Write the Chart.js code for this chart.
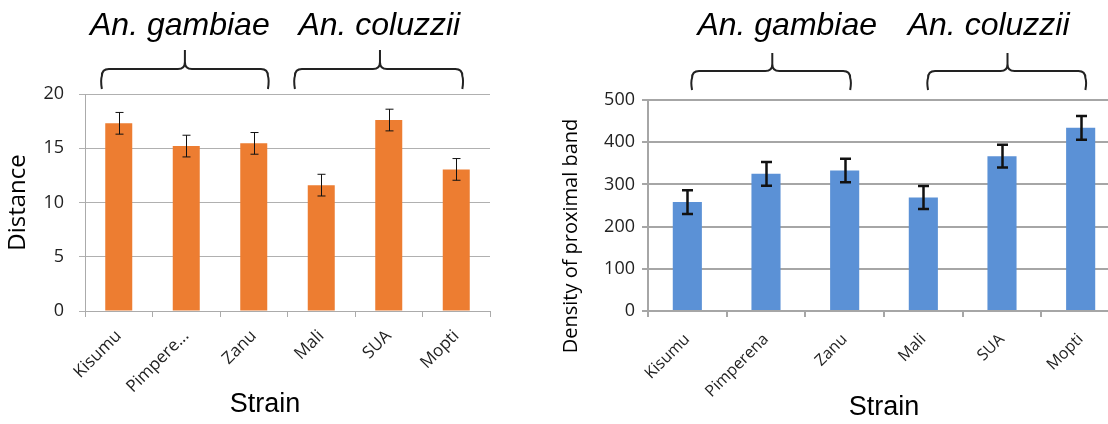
<!DOCTYPE html>
<html><head><meta charset="utf-8">
<script src="https://cdn.jsdelivr.net/npm/chart.js@4"></script>
<style>
html,body{margin:0;padding:0;background:#fff;overflow:hidden;width:1108px;height:424px;}
#c1{position:absolute;left:0;top:0;}
#c2{position:absolute;left:540px;top:0;}
</style></head><body>
<canvas id="c1" width="530" height="424"></canvas>
<canvas id="c2" width="600" height="424"></canvas>
<script>
// ---- data ----
const strains = ['Kisumu', 'Pimperena', 'Zanu', 'Mali', 'SUA', 'Mopti'];
const distanceTickLabels = ['Kisumu', 'Pimpere...', 'Zanu', 'Mali', 'SUA', 'Mopti'];
const distance = [17.3, 15.2, 15.45, 11.6, 17.6, 13.05];
const distanceErr = [1.0, 1.0, 1.0, 1.0, 1.0, 1.0];
const density = [258, 325, 333, 269, 367, 434];
const densityErr = [28, 28, 28, 27, 27, 28];
const groupNames = ['An. gambiae', 'An. coluzzii'];

// ---- plugins ----
const errorBars = {
  id: 'errorBars',
  afterDatasetsDraw(chart, args, o) {
    const {ctx, scales: {y}} = chart;
    const meta = chart.getDatasetMeta(0);
    const vals = chart.data.datasets[0].data;
    ctx.save();
    ctx.strokeStyle = o.color; ctx.lineWidth = o.width; ctx.lineCap = 'butt';
    meta.data.forEach((bar, i) => {
      const e = o.errors[i];
      const t = y.getPixelForValue(vals[i] + e), b = y.getPixelForValue(vals[i] - e);
      const cx = Math.round(bar.x) + (o.width % 2 ? 0.5 : 0), hw = o.cap / 2;
      ctx.beginPath();
      ctx.moveTo(cx, t); ctx.lineTo(cx, b);
      ctx.moveTo(cx - hw, t); ctx.lineTo(cx + hw, t);
      ctx.moveTo(cx - hw, b); ctx.lineTo(cx + hw, b);
      ctx.stroke();
    });
    ctx.restore();
  }
};

function drawBrace(ctx, x0, x1, xm, tipY, midY, endY) {
  const r = 7;
  ctx.beginPath();
  ctx.moveTo(x0, endY);
  ctx.quadraticCurveTo(x0 - 1.5, midY + r + 4, x0, midY + r);
  ctx.quadraticCurveTo(x0, midY, x0 + r, midY);
  ctx.lineTo(xm - r, midY);
  ctx.quadraticCurveTo(xm, midY, xm, midY - r);
  ctx.lineTo(xm, tipY);
  ctx.moveTo(xm, midY - r);
  ctx.quadraticCurveTo(xm, midY, xm + r, midY);
  ctx.lineTo(x1 - r, midY);
  ctx.quadraticCurveTo(x1, midY, x1, midY + r);
  ctx.quadraticCurveTo(x1 + 1.5, midY + r + 4, x1, endY);
  ctx.stroke();
}

function drawLabel(ctx, t, rot) {
  ctx.save();
  ctx.translate(t.x, t.y);
  if (rot) ctx.rotate(-Math.PI / 2);
  ctx.font = t.font; ctx.fillStyle = '#000'; ctx.textBaseline = 'middle'; ctx.textAlign = 'center';
  ctx.fillText(t.text, 0, 0);
  ctx.restore();
}

const braces = {
  id: 'braces',
  afterDraw(chart, args, o) {
    const {ctx, scales: {x}} = chart;
    ctx.save();
    ctx.font = o.font; ctx.fillStyle = '#000'; ctx.textAlign = 'center'; ctx.textBaseline = 'alphabetic';
    ctx.strokeStyle = '#222'; ctx.lineWidth = 2;
    o.items.forEach((it, i) => {
      const x0 = x.getPixelForValue(it.from), x1 = x.getPixelForValue(it.to);
      const xm = x.getPixelForValue(it.tip), xt = x.getPixelForValue(it.text);
      ctx.fillText(groupNames[i], xt, o.textY);
      drawBrace(ctx, x0, x1, xm, o.tipY, o.midY, o.endY);
    });
    if (o.yTitle) drawLabel(ctx, o.yTitle, true);
    if (o.xTitle) drawLabel(ctx, o.xTitle, false);
    ctx.restore();
  }
};

// ---- left chart ----
new Chart(document.getElementById('c1'), {
  type: 'bar',
  data: {labels: distanceTickLabels,
    datasets: [{data: distance, backgroundColor: '#ED7D31', barPercentage: 0.4, categoryPercentage: 1}]},
  options: {
    responsive: false, animation: false,
    layout: {padding: {left: 0, right: 40, top: 94, bottom: 0}},
    plugins: {
      legend: {display: false}, tooltip: {enabled: false},
      errorBars: {errors: distanceErr, color: '#111', width: 1, cap: 8},
      braces: {font: 'italic 32px "Liberation Sans"', textY: 35, tipY: 50, midY: 69, endY: 89,
        items: [{from: -0.25, to: 2.21, tip: 0.98, text: 0.905}, {from: 2.61, to: 5.09, tip: 3.87, text: 3.86}],
        xTitle: {text: 'Strain', x: 265, y: 405, font: '27px "Liberation Sans"'}}
    },
    scales: {
      x: {
        grid: {drawOnChartArea: false, tickLength: 6, color: '#ABABAB'},
        border: {color: '#ABABAB'},
        ticks: {minRotation: 45, maxRotation: 45, color: '#222', font: {family: 'Open Sans', size: 17}, padding: 9},
        afterFit(s) { s.height = 113; }
      },
      y: {
        min: 0, max: 20,
        ticks: {stepSize: 5, color: '#222', font: {family: 'Open Sans', size: 18}, padding: 15},
        grid: {color: '#B0B0B0', tickLength: 6},
        border: {color: '#ABABAB'},
        title: {display: true, text: 'Distance', color: '#000', font: {family: 'Open Sans', size: 24}, padding: {top: 4, bottom: 0}},
        afterFit(s) { s.width = 85; }
      }
    }
  },
  plugins: [errorBars, braces]
});

// ---- right chart ----
new Chart(document.getElementById('c2'), {
  type: 'bar',
  data: {labels: strains,
    datasets: [{data: density, backgroundColor: '#5B91D6', barPercentage: 0.37, categoryPercentage: 1}]},
  options: {
    responsive: false, animation: false,
    layout: {padding: {left: 0, right: 20, top: 100, bottom: 0}},
    plugins: {
      legend: {display: false}, tooltip: {enabled: false},
      errorBars: {errors: densityErr, color: '#111', width: 2.5, cap: 11},
      braces: {font: 'italic 32px "Liberation Sans"', textY: 35, tipY: 53, midY: 71, endY: 90,
        items: [{from: 0.06, to: 2.07, tip: 1.08, text: 1.27}, {from: 3.06, to: 5.06, tip: 4.07, text: 3.83}],
        yTitle: {text: 'Density of proximal band', x: 31, y: 236, font: '20px "Open Sans"'}}
    },
    scales: {
      x: {
        grid: {drawOnChartArea: false, tickLength: 6, color: '#A6A6A6', lineWidth: 2},
        border: {color: '#A6A6A6', width: 2},
        ticks: {minRotation: 45, maxRotation: 45, color: '#222', font: {family: 'Open Sans', size: 16}, padding: 13},
        title: {display: true, text: 'Strain', color: '#000', font: {family: 'Liberation Sans', size: 27}, padding: {top: 0, bottom: 0}},
        afterFit(s) { s.height = 113; }
      },
      y: {
        min: 0, max: 500,
        ticks: {stepSize: 100, color: '#222', font: {family: 'Open Sans', size: 18}, padding: 7},
        grid: {color: '#A6A6A6', lineWidth: 2, tickLength: 6},
        border: {color: '#A6A6A6', width: 2},
        afterFit(s) { s.width = 108; }
      }
    }
  },
  plugins: [errorBars, braces]
});
</script>
</body></html>
